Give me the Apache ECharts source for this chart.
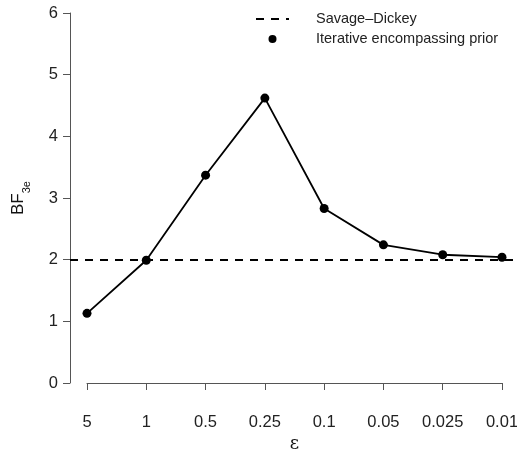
<!DOCTYPE html>
<html>
<head>
<meta charset="utf-8">
<script src="https://cdn.jsdelivr.net/npm/echarts@6/dist/echarts.min.js"></script>
<style>
  html, body { margin: 0; padding: 0; background: #fff; }
  #chart { width: 517px; height: 454px; }
</style>
</head>
<body>
<div id="chart"></div>
<script>
// epsilon values along the x axis
const epsilons = ['5', '1', '0.5', '0.25', '0.1', '0.05', '0.025', '0.01'];
// BF_3e from the iterative encompassing prior
const iterativeBF = [1.13, 1.99, 3.37, 4.62, 2.83, 2.24, 2.08, 2.04];
// Savage-Dickey reference value
const savageDickey = 2;
const yTicks = [0, 1, 2, 3, 4, 5, 6];

const chart = echarts.init(document.getElementById('chart'));
const axisColor = '#555';
const font = 'Liberation Sans, Arial, sans-serif';

chart.setOption({
    backgroundColor: '#fff',
    animation: false,
    textStyle: {fontFamily: font},
    legend: {
        orient: 'vertical',
        left: 250,
        top: 6,
        itemWidth: 33,
        itemHeight: 8,
        itemGap: 4,
        textStyle: {fontSize: 14.5, color: '#222', lineHeight: 16, padding: [0, 0, 0, 22]},
        data: [
            {name: 'Savage–Dickey', itemStyle: {opacity: 0}},
            {name: 'Iterative encompassing prior', icon: 'circle'}
        ]
    },
    grid: [
        {left: 87, right: 15, top: 13, bottom: 71, outerBoundsMode: 'none'},
        {left: 70, right: 0, top: 13, bottom: 71, outerBoundsMode: 'none'}
    ],
    xAxis: [{
        type: 'category',
        data: epsilons,
        boundaryGap: false,
        offset: 15,
        name: 'ε',
        nameLocation: 'middle',
        nameGap: 37,
        nameMoveOverlap: false,
        nameTextStyle: {fontFamily: 'DejaVu Serif, serif', fontSize: 18, color: '#111'},
        axisLine: {lineStyle: {color: axisColor, width: 1}},
        axisTick: {alignWithLabel: true, length: 7, lineStyle: {color: axisColor}},
        axisLabel: {fontSize: 16.5, color: '#222', margin: 16, interval: 0},
        splitLine: {show: false}
    }, {
        type: 'value', gridIndex: 1, min: 0, max: 1, show: false
    }],
    yAxis: [{
        type: 'value',
        min: yTicks[0],
        max: yTicks[yTicks.length - 1],
        interval: 1,
        offset: 17,
        name: '{b|BF}{s|3e}',
        nameLocation: 'middle',
        nameRotate: 90,
        nameGap: 40,
        nameMoveOverlap: false,
        nameTextStyle: {
            rich: {
                b: {fontSize: 17, color: '#111', lineHeight: 20, verticalAlign: 'top'},
                s: {fontSize: 11, color: '#111', lineHeight: 11, padding: [11, 0, 0, 0], verticalAlign: 'top'}
            }
        },
        axisLine: {show: true, lineStyle: {color: axisColor, width: 1}},
        axisTick: {show: true, length: 7, lineStyle: {color: axisColor}},
        axisLabel: {fontSize: 16.5, color: '#222', margin: 12},
        splitLine: {show: false}
    }, {
        type: 'value', gridIndex: 1, min: yTicks[0], max: yTicks[yTicks.length - 1], show: false
    }],
    series: [{
        name: 'Savage–Dickey',
        type: 'line',
        xAxisIndex: 1,
        yAxisIndex: 1,
        data: [],
        symbol: 'none',
        lineStyle: {color: '#000', width: 2.2, type: [8, 7]},
        itemStyle: {color: '#000'},
        markLine: {
            silent: true,
            symbol: 'none',
            label: {show: false},
            lineStyle: {color: '#000', width: 2.2, type: [8, 7]},
            data: [{yAxis: savageDickey}]
        }
    }, {
        name: 'Iterative encompassing prior',
        type: 'line',
        data: iterativeBF,
        symbol: 'circle',
        symbolSize: 9,
        lineStyle: {color: '#000', width: 1.8},
        itemStyle: {color: '#000'},
        z: 3
    }]
});
</script>
</body>
</html>
